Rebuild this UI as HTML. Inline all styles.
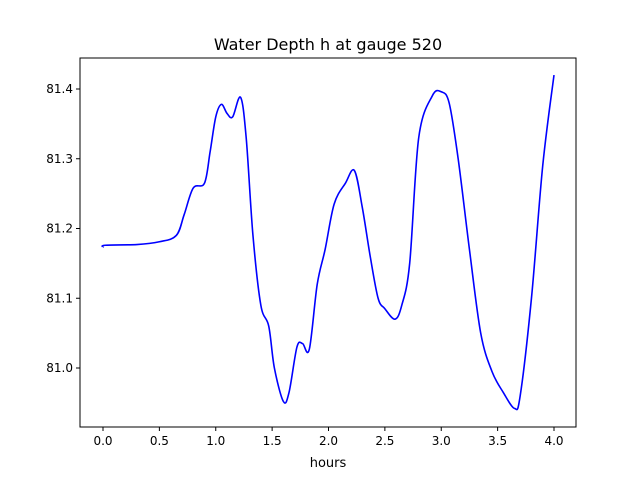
<!DOCTYPE html>
<html><head><meta charset="utf-8"><style>
body{margin:0;background:#fff;}
svg text{font-family:"DejaVu Sans","Liberation Sans",sans-serif;}
</style></head><body>
<svg id="chart" width="640" height="480" viewBox="0 0 640 480">
<rect width="640" height="480" fill="#fff"/>
<text x="328" y="50" font-size="16" text-anchor="middle">Water Depth h at gauge 520</text>
<g id="plot"></g>
<text x="328" y="467" font-size="13" text-anchor="middle">hours</text>
</svg>
<script>
const times=[0,0.02,0.3,0.5,0.65,0.72,0.8,0.9,0.95,1.0,1.05,1.1,1.15,1.22,1.27,1.33,1.4,1.47,1.52,1.6,1.65,1.72,1.77,1.83,1.9,1.97,2.05,2.15,2.23,2.3,2.37,2.44,2.5,2.59,2.65,2.72,2.8,2.92,3.0,3.07,3.15,3.25,3.35,3.45,3.55,3.65,3.7,3.8,3.9,4.0];
const depths=[81.173,81.176,81.177,81.181,81.19,81.22,81.258,81.265,81.31,81.36,81.378,81.365,81.36,81.388,81.33,81.19,81.09,81.06,81.0,80.952,80.965,81.03,81.035,81.027,81.12,81.17,81.235,81.265,81.283,81.23,81.16,81.1,81.085,81.07,81.09,81.15,81.33,81.39,81.396,81.38,81.3,81.17,81.05,80.995,80.965,80.942,80.96,81.1,81.29,81.42];
const xTicks=[0,0.5,1.0,1.5,2.0,2.5,3.0,3.5,4.0];
const xTickLabels=["0.0","0.5","1.0","1.5","2.0","2.5","3.0","3.5","4.0"];
const yTicks=[81.0,81.1,81.2,81.3,81.4];
const yTickLabels=["81.0","81.1","81.2","81.3","81.4"];
const L=80,R=576,T=58,B=427;
const xs=t=>103+t*112.75;
const ys=v=>368-(v-81.0)*697.5;
const g=document.getElementById('plot');
const NS='http://www.w3.org/2000/svg';
function mk(tag,at){const e=document.createElementNS(NS,tag);for(const k in at)e.setAttribute(k,at[k]);g.appendChild(e);return e;}
const P=times.map((t,i)=>[xs(t),ys(depths[i])]);
let d='M'+P[0][0]+','+P[0][1];
for(let i=0;i<P.length-1;i++){const p0=P[Math.max(i-1,0)],p1=P[i],p2=P[i+1],p3=P[Math.min(i+2,P.length-1)];
d+=` C${p1[0]+(p2[0]-p0[0])/6},${p1[1]+(p2[1]-p0[1])/6} ${p2[0]-(p3[0]-p1[0])/6},${p2[1]-(p3[1]-p1[1])/6} ${p2[0]},${p2[1]}`;}
const line=mk('path',{d:d,fill:'none',stroke:'#0000ff','stroke-width':1.6});


const frame=mk('rect',{x:L,y:T,width:R-L,height:B-T,fill:'none',stroke:'#000','stroke-width':1});


xTicks.forEach((t,i)=>{const x=xs(t);
const tk=mk('line',{x1:x,x2:x,y1:B,y2:B+4,stroke:'#000'});


const tx=mk('text',{x:x,y:B+18,'font-size':12,'text-anchor':'middle'});tx.textContent=xTickLabels[i];

});
yTicks.forEach((v,i)=>{const y=ys(v);
const tk=mk('line',{x1:L-4,x2:L,y1:y,y2:y,stroke:'#000'});


const tx=mk('text',{x:L-7,y:y+4,'font-size':12,'text-anchor':'end'});tx.textContent=yTickLabels[i];

});
</script>
</body></html>
